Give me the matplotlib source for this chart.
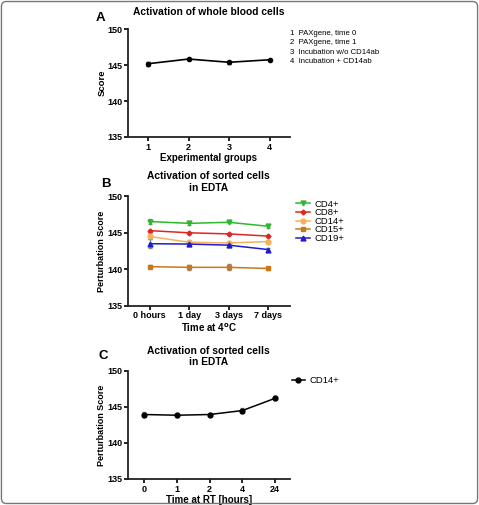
import numpy as np
import matplotlib
matplotlib.use("Agg")
import matplotlib.pyplot as plt
from matplotlib.patches import FancyBboxPatch
from matplotlib.lines import Line2D

plt.rcParams['font.family'] = ['Liberation Sans', 'DejaVu Sans']

# Panel A data
groups_a = [1, 2, 3, 4]
score_a = [145.2, 145.85, 145.4, 145.75]
err_a = [0.25, 0.1, 0.2, 0.1]
legend_a = ["1  PAXgene, time 0", "2  PAXgene, time 1",
            "3  Incubation w/o CD14ab", "4  Incubation + CD14ab"]

# Panel B data
labels_b = ["0 hours", "1 day", "3 days", "7 days"]
cd4 = [146.55, 146.3, 146.45, 145.9]
cd8 = [145.3, 145.0, 144.85, 144.55]
cd14 = [144.5, 143.7, 143.6, 143.8]
cd15 = [140.35, 140.25, 140.25, 140.1]
cd19 = [143.5, 143.45, 143.3, 142.7]
err_cd4 = [0.35, 0.2, 0.15, 0.2]
err_cd8 = [0.15, 0.15, 0.15, 0.15]
err_cd14 = [0.4, 0.2, 0.2, 0.15]
err_cd15 = [0.2, 0.3, 0.4, 0.15]
err_cd19 = [0.6, 0.3, 0.3, 0.25]

# Panel C data
labels_c = ["0", "1", "2", "4", "24"]
score_c = [143.95, 143.85, 143.95, 144.5, 146.2]
err_c = [0.3, 0.2, 0.2, 0.3, 0.3]


def style_axes(ax):
    for s in ["top", "right"]:
        ax.spines[s].set_visible(False)
    for s in ["left", "bottom"]:
        ax.spines[s].set_linewidth(1.3)
        ax.spines[s].set_color("#222222")
    ax.set_ylim(135, 150)
    ax.set_yticks([135, 140, 145, 150])
    ax.set_yticklabels(["135", "140", "145", "150"], fontweight="bold")
    ax.tick_params(width=1.2, length=3, labelsize=6.5, pad=1.2)


fig = plt.figure(figsize=(4.79, 5.05), dpi=100)
fig.patches.append(FancyBboxPatch((0.003, 0.003), 0.994, 0.994,
                                  boxstyle="round,pad=0,rounding_size=0.01",
                                  transform=fig.transFigure, fill=False,
                                  edgecolor="#777777", linewidth=1.0))

# ---- A ----
axA = fig.add_axes([0.267, 0.729, 0.338, 0.213])
axA.errorbar(groups_a, score_a, yerr=err_a, color="black", marker="o",
             markersize=3, linewidth=1.2, capsize=1.5, elinewidth=0.8)
axA.set_xlim(0.5, 4.5)
axA.set_xticks(groups_a)
style_axes(axA)
axA.set_xticklabels([str(g) for g in groups_a], fontweight="bold")
axA.set_ylabel("Score", fontsize=6.8, fontweight="bold", labelpad=0.5)
axA.set_xlabel("Experimental groups", fontsize=7, fontweight="bold", labelpad=1)
axA.set_title("Activation of whole blood cells", fontsize=7.4, fontweight="bold", pad=10)
fig.text(0.200, 0.965, "A", fontsize=9.5, fontweight="bold", va="center")
for i, txt in enumerate(legend_a):
    fig.text(0.606, 0.934 - i * 0.0185, txt, fontsize=5.6, va="center")

# ---- B ----
axB = fig.add_axes([0.267, 0.395, 0.338, 0.216])
xb = np.arange(len(labels_b))
series_b = [
    ("CD4+", cd4, err_cd4, "#2db82d", "v", 3.5),
    ("CD8+", cd8, err_cd8, "#e02525", "D", 2.5),
    ("CD14+", cd14, err_cd14, "#f4b25e", "o", 3.5),
    ("CD15+", cd15, err_cd15, "#cc761c", "s", 3.5),
    ("CD19+", cd19, err_cd19, "#1c1cd0", "^", 3.5),
]
handles_b = []
for name, vals, errs, col, mk, ms in series_b:
    axB.errorbar(xb, vals, yerr=errs, color=col, marker=mk, markersize=ms,
                 linewidth=1.1, capsize=1.5, elinewidth=0.8, ecolor="#888888")
    handles_b.append(Line2D([], [], color=col, marker=mk, markersize=ms,
                            linewidth=1.1, label=name))
axB.set_xlim(-0.55, 3.55)
axB.set_xticks(xb)
style_axes(axB)
axB.set_xticklabels(labels_b, fontweight="bold")
axB.set_ylabel("Perturbation Score", fontsize=6.5, fontweight="bold", labelpad=0.5)
axB.set_xlabel("Time at 4$^{\\mathbf{o}}$C", fontsize=7, fontweight="bold", labelpad=1)
axB.set_title("Activation of sorted cells\nin EDTA", fontsize=7.4, fontweight="bold",
              pad=4, linespacing=1.2)
fig.text(0.212, 0.636, "B", fontsize=9.5, fontweight="bold", va="center")
axB.legend(handles=handles_b, loc="upper left", bbox_to_anchor=(1.0, 1.03),
           frameon=False, fontsize=6.8, handlelength=1.4, handletextpad=0.5,
           labelspacing=-0.05, borderaxespad=0.3)

# ---- C ----
axC = fig.add_axes([0.267, 0.0515, 0.338, 0.214])
xc = np.arange(len(labels_c))
axC.errorbar(xc, score_c, yerr=err_c, color="black", marker="o", markersize=3.5,
             linewidth=1.1, capsize=1.5, elinewidth=0.8, ecolor="#888888")
axC.set_xlim(-0.5, 4.45)
axC.set_xticks(xc)
style_axes(axC)
axC.set_xticklabels(labels_c, fontweight="bold")
axC.set_ylabel("Perturbation Score", fontsize=6.5, fontweight="bold", labelpad=0.5)
axC.set_xlabel("Time at RT [hours]", fontsize=7, fontweight="bold", labelpad=1)
axC.set_title("Activation of sorted cells\nin EDTA", fontsize=7.4, fontweight="bold",
              pad=4, linespacing=1.2)
fig.text(0.205, 0.295, "C", fontsize=9.5, fontweight="bold", va="center")
handle_c = Line2D([], [], color="black", marker="o", markersize=3.5,
                  linewidth=1.1, label="CD14+")
axC.legend(handles=[handle_c], loc="upper left", bbox_to_anchor=(0.97, 1.015),
           frameon=False, fontsize=6.8, handlelength=1.4, handletextpad=0.5,
           borderaxespad=0.3)

fig.savefig("out.png", dpi=100)
